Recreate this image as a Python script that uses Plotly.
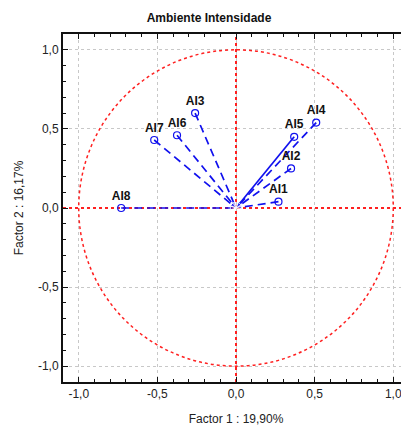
import plotly.graph_objects as go

labels = ["AI1", "AI2", "AI3", "AI4", "AI5", "AI6", "AI7", "AI8"]
factor1 = [0.27, 0.35, -0.26, 0.51, 0.37, -0.375, -0.52, -0.73]
factor2 = [0.04, 0.25, 0.60, 0.54, 0.45, 0.46, 0.43, 0.00]
solid = ["AI5"]

tick_vals = [-1.0, -0.5, 0.0, 0.5, 1.0]
tick_text = ["-1,0", "-0,5", "0,0", "0,5", "1,0"]

blue = "#1010ee"
red = "#ff2020"
font = "Liberation Sans, Arial, sans-serif"

fig = go.Figure()

for lab, x, y in zip(labels, factor1, factor2):
    fig.add_trace(go.Scatter(
        x=[x, 0], y=[y, 0], mode="lines+markers",
        line=dict(color=blue, width=1.7, dash="solid" if lab in solid else "8px,5px"),
        marker=dict(symbol="arrow", size=[0, 6], angleref="previous", color=blue),
        hoverinfo="skip", showlegend=False,
    ))

fig.add_trace(go.Scatter(
    x=factor1, y=factor2, mode="markers+text", text=labels,
    textposition="top center",
    marker=dict(symbol="circle-open", size=7, color=blue, line=dict(color=blue, width=1.2)),
    textfont=dict(family=font, size=12, color="#111111", weight="bold"),
    showlegend=False, hoverinfo="skip",
))

# reference unit circle and zero lines
fig.add_shape(type="circle", x0=-1, y0=-1, x1=1, y1=1, xref="x", yref="y",
              line=dict(color=red, width=1.5, dash="dot"), layer="between")
fig.add_shape(type="line", x0=-1.1, x1=1.1, y0=0, y1=0, xref="x", yref="y",
              line=dict(color=red, width=2, dash="dot"), layer="between")
fig.add_shape(type="line", x0=0, x1=0, y0=-1.1, y1=1.1, xref="x", yref="y",
              line=dict(color=red, width=2, dash="dot"), layer="between")

axis_common = dict(
    tickvals=tick_vals, ticktext=tick_text, automargin=False,
    showgrid=True, gridcolor="#c8c8c8", griddash="dot", gridwidth=1,
    zeroline=False, showline=True, linecolor="#111111", linewidth=2,
    mirror="allticks", ticks="inside", ticklen=5, tickcolor="#111111",
    minor=dict(dtick=0.1, ticks="inside", ticklen=3, tickcolor="#111111", showgrid=False),
    tickfont=dict(family=font, size=12, color="#222222"),
)

fig.update_layout(
    width=409, height=427,
    margin=dict(l=63, r=0, t=34, b=45, autoexpand=False),
    paper_bgcolor="white", plot_bgcolor="white",
    title=dict(text="<b>Ambiente Intensidade</b>", x=209/409, xanchor="center",
               y=1-18/427, yanchor="middle", automargin=False,
               font=dict(family=font, size=12, color="#111111")),
    xaxis=dict(range=[-1.1, 1.1], title=dict(text="Factor 1 : 19,90%", standoff=14,
               font=dict(family=font, size=12, color="#222222")), **axis_common),
    yaxis=dict(range=[-1.1, 1.1], title=dict(text="Factor 2 : 16,17%", standoff=12,
               font=dict(family=font, size=12, color="#222222")), **axis_common),
)

fig.write_html("out.html", config={"displayModeBar": False},
               post_script="document.body.style.margin='0';document.body.style.overflow='hidden';")
